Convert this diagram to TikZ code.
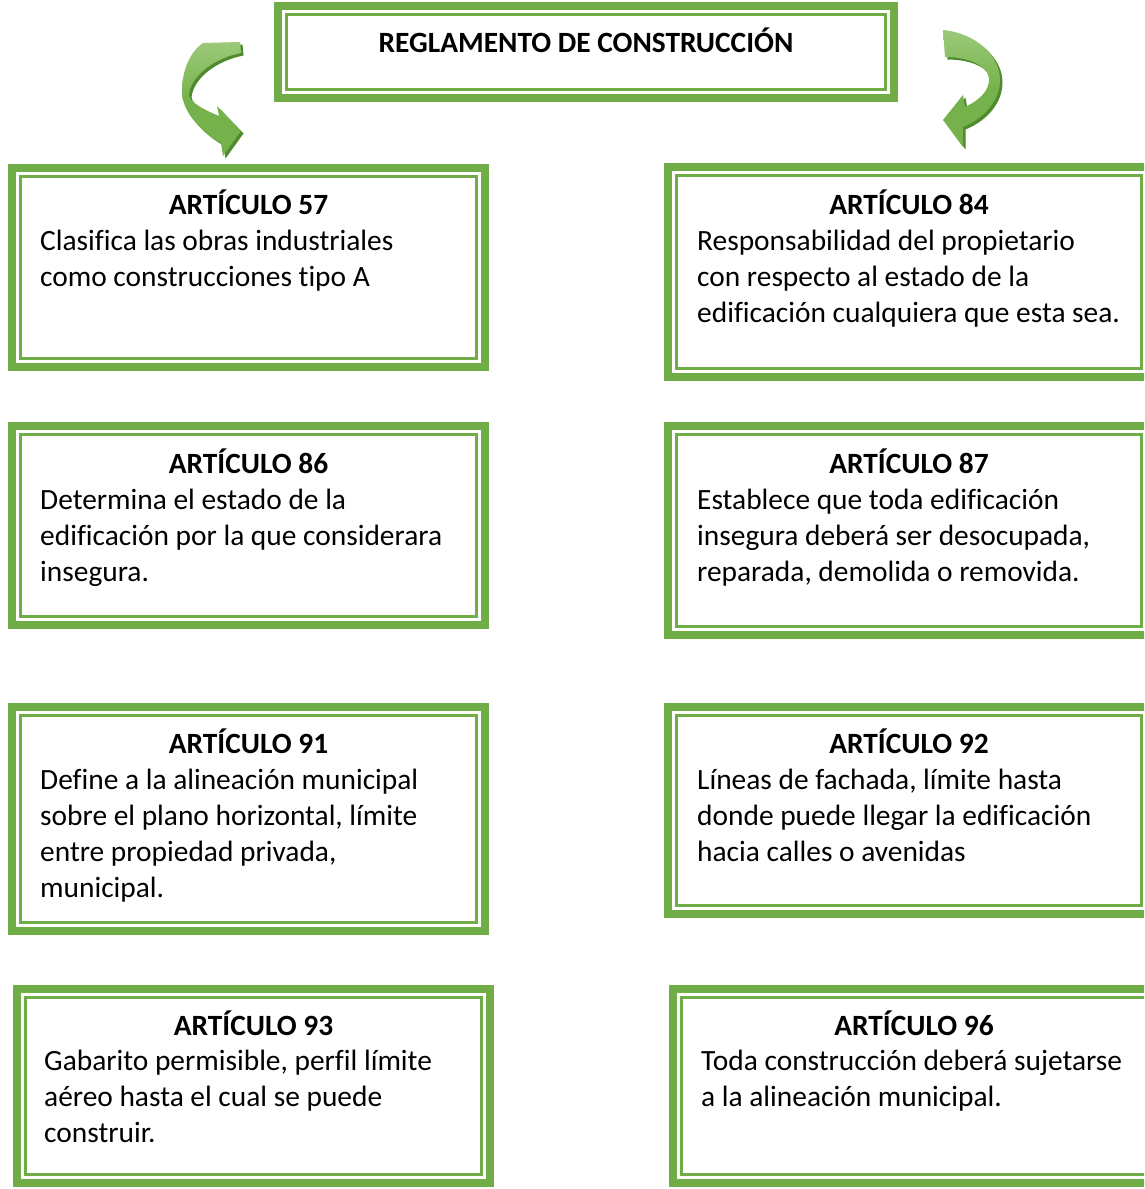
\documentclass[tikz,border=0pt]{standalone}
\usepackage{fontspec}
\setmainfont{Carlito}[Ligatures=NoCommon]
\definecolor{frameg}{HTML}{70AD47}
\definecolor{arrlight}{HTML}{9CC97A}
\definecolor{arrmid}{HTML}{76B24B}
\definecolor{arrdark}{HTML}{4E8A2E}
\tikzset{
  frame/.style={draw=frameg, line width=8pt, rectangle, inner sep=0pt, outer sep=0pt},
  innerline/.style={draw=frameg, line width=2.6pt},
  head/.style={font=\fontsize{29.4}{36}\selectfont\bfseries, inner sep=0pt, anchor=base},
  % anchored at the baseline of the last line
  body/.style={font=\fontsize{29.4}{36}\selectfont, inner sep=0pt, align=left, anchor=base west},
  arrshadow/.style={fill=arrdark},
  arrbody/.style={top color=arrlight, bottom color=arrmid, middle color=arrmid}
}
% framed box: name, left, top, right, bottom (page units, y downwards)
\newcommand\artframe[5]{%
  \node[frame, minimum width={#4-#2-8}, minimum height={#5-#3-8}] (#1) at ({(#2+#4)/2},{(#3+#5)/2}) {};
  \draw[innerline] ([shift={(8.5,8.5)}]#1.north west) rectangle ([shift={(-8.5,-8.5)}]#1.south east);
}
\begin{document}
\begin{tikzpicture}[x=1pt,y=-1pt]
\clip (0,0) rectangle (1144,1189);
\fill[white] (0,0) rectangle (1144,1189);

% title
\artframe{title}{274}{2}{898}{102}
\node[head] (ttext) at (586,52) {REGLAMENTO DE CONSTRUCCIÓN};

% curved arrow, left
\def\leftarrowpath{(203,43) -- (240,42) -- (241,53) .. controls (215,58) and (191,75) .. (189,95) .. controls (190,103) and (205,110) .. (219,116) -- (217,106) -- (241,131) -- (223,156) -- (221,143) .. controls (200,131) and (182,111) .. (182,92) .. controls (182,70) and (190,52) .. (203,43) -- cycle}
\fill[arrshadow, shift={(2.5,2.5)}] \leftarrowpath;
\shade[arrbody] \leftarrowpath;

% curved arrow, right
\def\rightarrowpath{(943,30) .. controls (975,33) and (1000,55) .. (1000,80) .. controls (1000,100) and (985,118) .. (963,127) -- (963,147) -- (943,120) -- (963,95) -- (965,107) .. controls (980,100) and (990,90) .. (989,78) .. controls (987,65) and (968,57) .. (945,57) -- cycle}
\fill[arrshadow, shift={(2.5,2.5)}] \rightarrowpath;
\shade[arrbody] \rightarrowpath;

% row 1
\artframe{a57}{8}{164}{489}{371}
\node[head] (h57) at (248.5,214) {ARTÍCULO 57};
\node[body] (t57) at (40,286) {Clasifica las obras industriales\\como construcciones tipo A};

\artframe{a84}{664}{163}{1154}{381}
\node[head] (h84) at (909,214) {ARTÍCULO 84};
\node[body] (t84) at (697,322) {Responsabilidad del propietario\\con respecto al estado de la\\edificación cualquiera que esta sea.};

% row 2
\artframe{a86}{8}{422}{489}{629}
\node[head] (h86) at (248.5,473) {ARTÍCULO 86};
\node[body] (t86) at (40,581) {Determina el estado de la\\edificación por la que considerara\\insegura.};

\artframe{a87}{664}{422}{1154}{639}
\node[head] (h87) at (909,473) {ARTÍCULO 87};
\node[body] (t87) at (697,581) {Establece que toda edificación\\insegura deberá ser desocupada,\\reparada, demolida o removida.};

% row 3
\artframe{a91}{8}{703}{489}{935}
\node[head] (h91) at (248.5,753) {ARTÍCULO 91};
\node[body] (t91) at (40,897) {Define a la alineación municipal\\sobre el plano horizontal, límite\\entre propiedad privada,\\municipal.};

\artframe{a92}{664}{703}{1154}{918}
\node[head] (h92) at (909,753) {ARTÍCULO 92};
\node[body] (t92) at (697,861) {Líneas de fachada, límite hasta\\donde puede llegar la edificación\\hacia calles o avenidas};

% row 4
\artframe{a93}{13}{985}{494}{1187}
\node[head] (h93) at (253.5,1035) {ARTÍCULO 93};
\node[body] (t93) at (44,1142) {Gabarito permisible, perfil límite\\aéreo hasta el cual se puede\\construir.};

\artframe{a96}{669}{985}{1159}{1187}
\node[head] (h96) at (914,1035) {ARTÍCULO 96};
\node[body] (t96) at (701,1106) {Toda construcción deberá sujetarse\\a la alineación municipal.};
\end{tikzpicture}
\end{document}
